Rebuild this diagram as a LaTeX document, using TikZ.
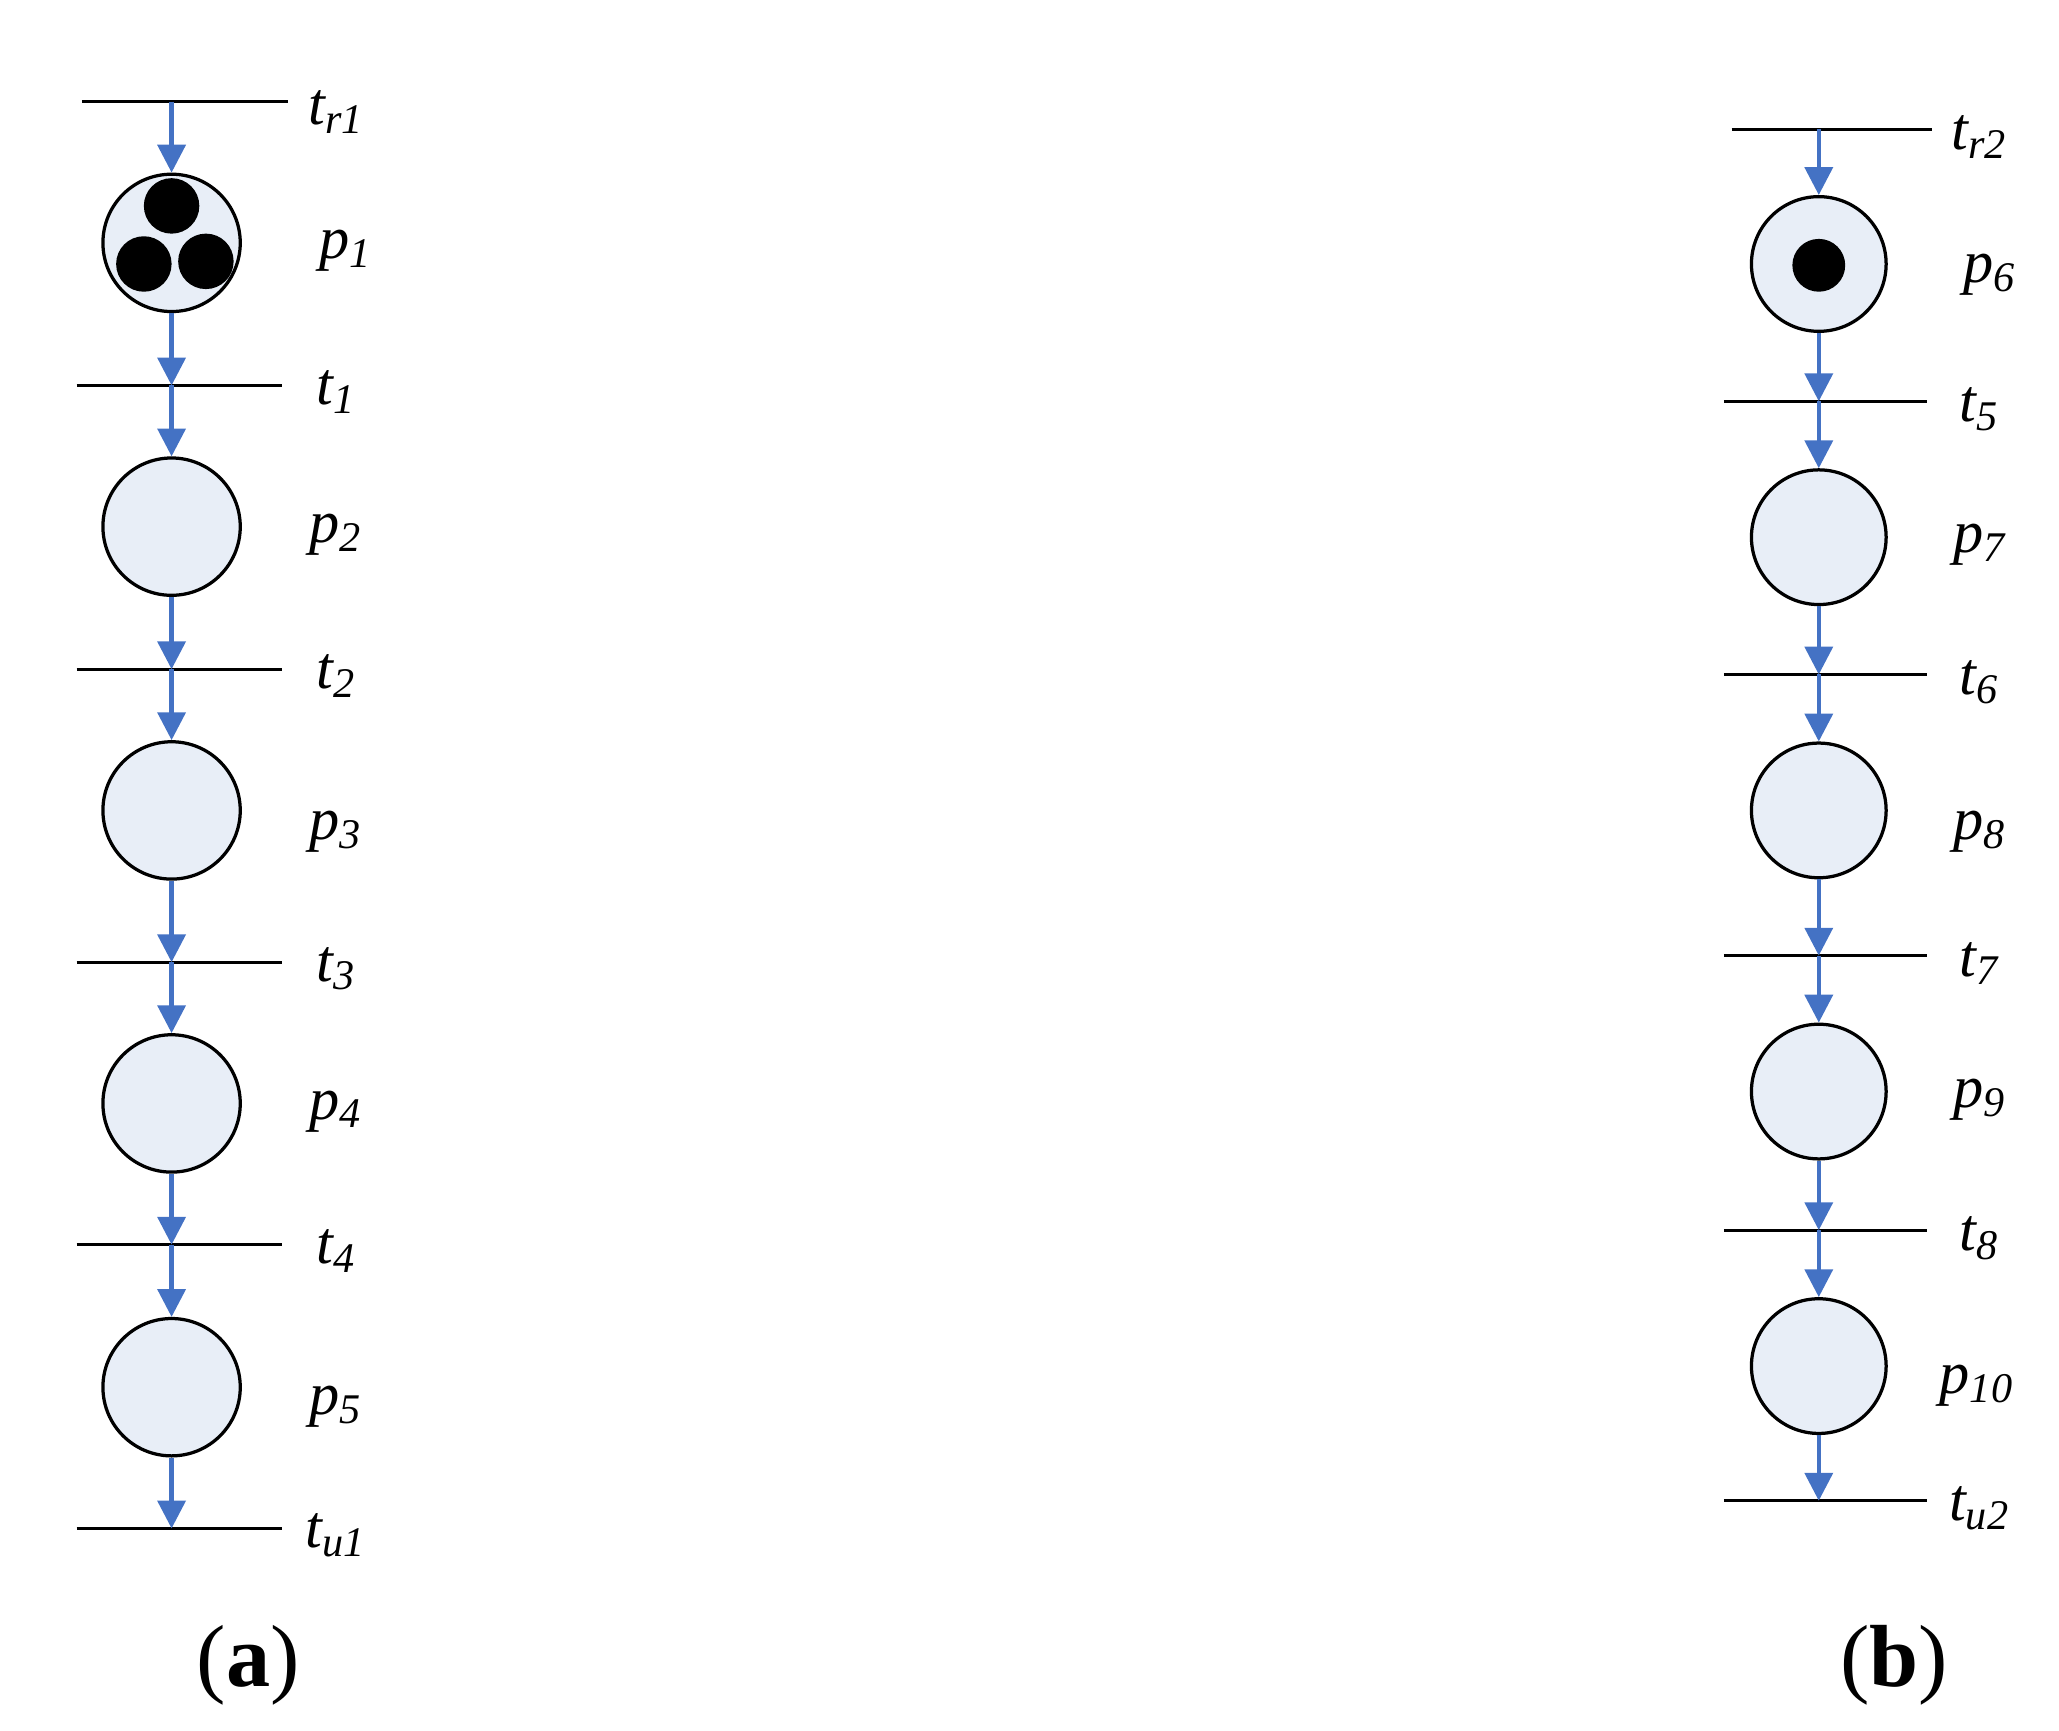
\documentclass[tikz,border=0pt]{standalone}
\usepackage{fontspec}
\setmainfont{Liberation Serif}
\usetikzlibrary{arrows.meta}
\definecolor{arc}{RGB}{68,114,196}
\definecolor{pfill}{RGB}{232,238,247}
\begin{document}
\begin{tikzpicture}[x=0.01cm,y=-0.01cm,
  place/.style={circle,draw=black,fill=pfill,minimum size=1.04cm,inner sep=0,line width=0.7pt},
  tok/.style={circle,fill=black,minimum size=0.42cm,inner sep=0},
  arcs/.style={draw=arc,line width=0.9pt,-{Triangle[length=6pt,width=6pt]}},
  bar/.style={draw=black,line width=0.7pt},
  lab/.style={font=\fontsize{13pt}{15pt}\selectfont\itshape},
  capt/.style={font=\fontsize{19pt}{22pt}\selectfont}]
\useasboundingbox (0,0) rectangle (1560,1311);
% left column
\foreach \n/\y in {r1/77,1/292,2/507,3/729,4/943,u1/1158}{
  \coordinate (tl\n) at (130,\y);
}
\foreach \y in {292,507,729,943,1158}{ \draw[bar] (58,\y) -- (214,\y); }
\draw[bar] (62,77) -- (218,77);
\node[lab] at (255,85) {t\textsubscript{r1}};
\node[lab] at (255,297) {t\textsubscript{1}};
\node[lab] at (255,512) {t\textsubscript{2}};
\node[lab] at (255,734) {t\textsubscript{3}};
\node[lab] at (255,948) {t\textsubscript{4}};
\node[lab] at (255,1163) {t\textsubscript{u1}};
\foreach \n/\y in {1/184,2/399,3/614,4/836,5/1051}{
  \node[place] (p\n) at (130,\y) {};
}
\node[lab] at (262,190) {p\textsubscript{1}};
\node[lab] at (255,405) {p\textsubscript{2}};
\node[lab] at (255,630) {p\textsubscript{3}};
\node[lab] at (255,842) {p\textsubscript{4}};
\node[lab] at (255,1066) {p\textsubscript{5}};
\node[tok] (k1) at (130,156) {};
\node[tok] (k2) at (109,200) {};
\node[tok] (k3) at (156,198) {};
\draw[arcs] (tlr1) -- (p1);
\draw[arcs] (p1) -- (tl1);
\draw[arcs] (tl1) -- (p2);
\draw[arcs] (p2) -- (tl2);
\draw[arcs] (tl2) -- (p3);
\draw[arcs] (p3) -- (tl3);
\draw[arcs] (tl3) -- (p4);
\draw[arcs] (p4) -- (tl4);
\draw[arcs] (tl4) -- (p5);
\draw[arcs] (p5) -- (tlu1);
% right column
\foreach \n/\y in {r2/98,5/304,6/511,7/724,8/932,u2/1137}{
  \coordinate (tr\n) at (1378,\y);
}
\foreach \y in {304,511,724,932,1137}{ \draw[bar] (1306,\y) -- (1460,\y); }
\draw[bar] (1312,98) -- (1464,98);
\node[lab] at (1500,104) {t\textsubscript{r2}};
\node[lab] at (1500,310) {t\textsubscript{5}};
\node[lab] at (1500,517) {t\textsubscript{6}};
\node[lab] at (1500,730) {t\textsubscript{7}};
\node[lab] at (1500,938) {t\textsubscript{8}};
\node[lab] at (1500,1143) {t\textsubscript{u2}};
\foreach \n/\y in {6/200,7/407,8/614,9/827,10/1035}{
  \node[place,minimum size=1.02cm] (p\n) at (1378,\y) {};
}
\node[lab] at (1508,208) {p\textsubscript{6}};
\node[lab] at (1500,413) {p\textsubscript{7}};
\node[lab] at (1500,630) {p\textsubscript{8}};
\node[lab] at (1500,833) {p\textsubscript{9}};
\node[lab] at (1498,1050) {p\textsubscript{10}};
\node[tok,minimum size=0.4cm] (k6) at (1378,201) {};
\draw[arcs] (trr2) -- (p6);
\draw[arcs] (p6) -- (tr5);
\draw[arcs] (tr5) -- (p7);
\draw[arcs] (p7) -- (tr6);
\draw[arcs] (tr6) -- (p8);
\draw[arcs] (p8) -- (tr7);
\draw[arcs] (tr7) -- (p9);
\draw[arcs] (p9) -- (tr8);
\draw[arcs] (tr8) -- (p10);
\draw[arcs] (p10) -- (tru2);
\node[capt] (ca) at (188,1262) {(\textbf{a})};
\node[capt] (cb) at (1435,1262) {(\textbf{b})};
\end{tikzpicture}
\end{document}
